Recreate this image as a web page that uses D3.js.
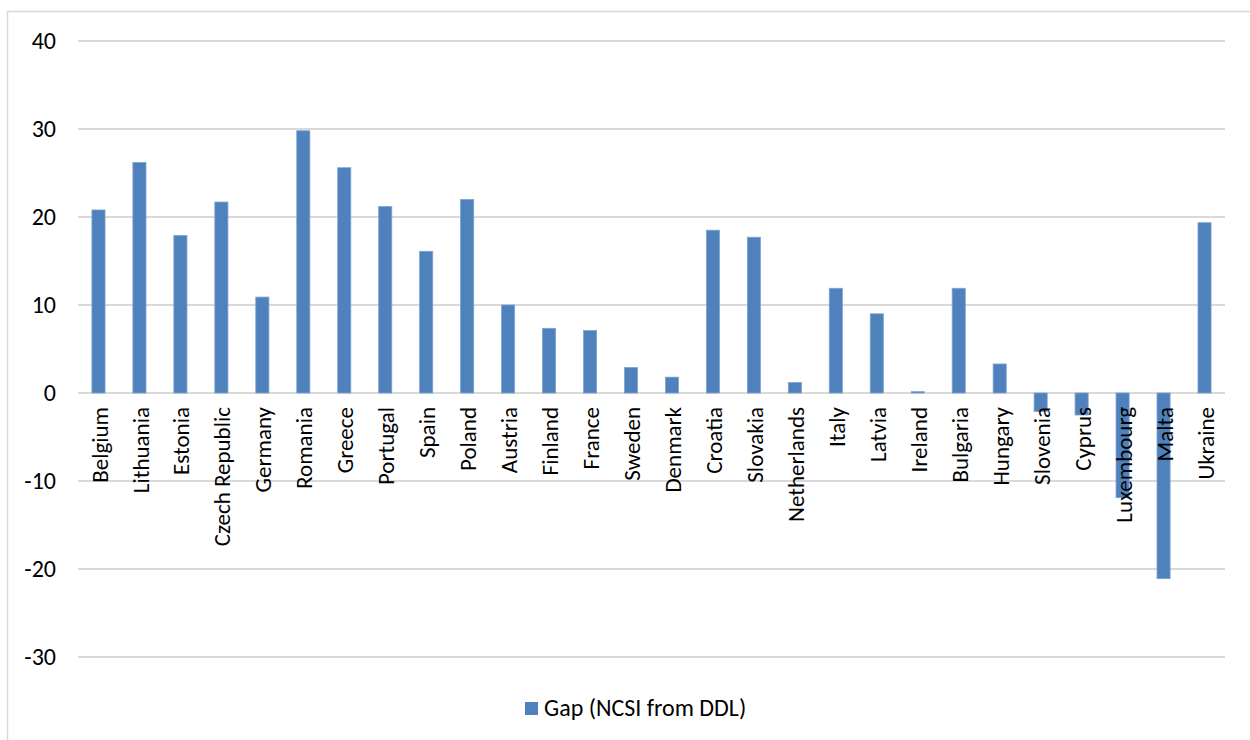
<!DOCTYPE html>
<html>
<head>
<meta charset="utf-8">
<script src="https://cdn.jsdelivr.net/npm/d3@7"></script>
<style>
  html, body { margin: 0; padding: 0; background: #fff; }
  svg { display: block; }
  text { font-family: Carlito, Calibri, Lato, sans-serif; fill: #000; }
</style>
</head>
<body>
<svg id="chart" width="1250" height="740"></svg>
<script>
// Gap between NCSI and DDL by country
const countries = ["Belgium", "Lithuania", "Estonia", "Czech Republic", "Germany", "Romania",
  "Greece", "Portugal", "Spain", "Poland", "Austria", "Finland", "France", "Sweden", "Denmark",
  "Croatia", "Slovakia", "Netherlands", "Italy", "Latvia", "Ireland", "Bulgaria", "Hungary",
  "Slovenia", "Cyprus", "Luxembourg", "Malta", "Ukraine"];
const gapValues = [20.8, 26.2, 17.9, 21.7, 10.9, 29.8, 25.6, 21.2, 16.1, 22.0, 10.0, 7.35, 7.1,
  2.9, 1.8, 18.5, 17.7, 1.2, 11.9, 9.0, 0.15, 11.9, 3.3, -2.1, -2.5, -11.9, -21.1, 19.35];
const yTicks = [-30, -20, -10, 0, 10, 20, 30, 40];
const seriesName = "Gap (NCSI from DDL)";

const svg = d3.select("#chart");
const barColor = "#4f81bd";
const gridColor = "#d9d9d9";
const fontStack = "Carlito, Calibri, Lato, sans-serif";

// chart frame
svg.append("rect")
  .attr("x", 7.5).attr("y", 11.5)
  .attr("width", 1260).attr("height", 760)
  .attr("fill", "none").attr("stroke", gridColor).attr("stroke-width", 1.5);

const plot = { left: 78, right: 1225 };
const y = d3.scaleLinear().domain([-30, 40]).range([657, 41]);
const x = d3.scaleBand().domain(countries).range([plot.left, plot.right]).paddingInner(0.68).paddingOuter(0.34);

// horizontal gridlines
svg.append("g").selectAll("line").data(yTicks).join("line")
  .attr("x1", plot.left).attr("x2", plot.right)
  .attr("y1", d => y(d)).attr("y2", d => y(d))
  .attr("stroke", gridColor).attr("stroke-width", 2);

// y axis labels (plain hyphen for negatives)
const yAxis = d3.axisLeft(y).tickValues(yTicks).tickSize(0).tickPadding(0).tickFormat(d => String(d));
const yg = svg.append("g").attr("transform", "translate(56,0)").call(yAxis);
yg.select(".domain").remove();
yg.selectAll("text").style("font-size", "24px").style("font-family", fontStack).attr("fill", "#000");

// bars
svg.append("g").selectAll("rect").data(countries).join("rect")
  .attr("x", d => x(d))
  .attr("width", x.bandwidth())
  .attr("y", (d, i) => y(Math.max(0, gapValues[i])))
  .attr("height", (d, i) => Math.abs(y(gapValues[i]) - y(0)))
  .attr("fill", barColor)
  .attr("stroke", "#7ea3d3").attr("stroke-width", 0.8);

// category labels, rotated
const xAxis = d3.axisBottom(x).tickSize(0).tickPadding(0);
const xg = svg.append("g").attr("transform", `translate(0,${y(0)})`).call(xAxis);
xg.select(".domain").remove();
xg.selectAll("text")
  .style("font-size", "23px").style("font-family", fontStack)
  .attr("fill", "#000")
  .attr("text-anchor", "end")
  .attr("transform", "rotate(-90)")
  .attr("x", -14).attr("y", 1).attr("dy", "0.35em");

// legend
const lg = svg.append("g");
lg.append("rect").attr("x", 525).attr("y", 702).attr("width", 13).attr("height", 13).attr("fill", barColor);
lg.append("text").attr("x", 544).attr("y", 716).style("font-size", "24px").text(seriesName);
</script>
</body>
</html>
